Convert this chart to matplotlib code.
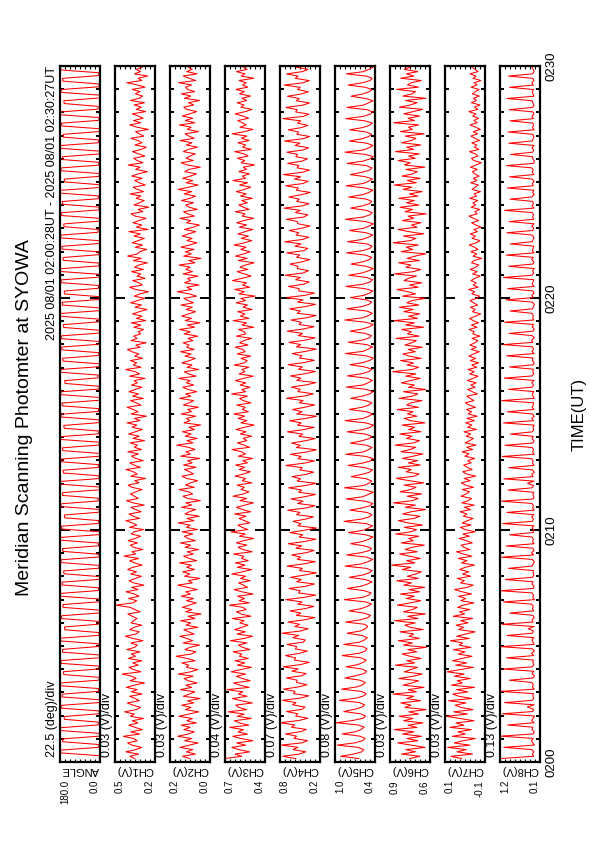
import matplotlib
matplotlib.use("Agg")
import matplotlib.pyplot as plt
import numpy as np
from matplotlib.ticker import FixedLocator, FuncFormatter, MultipleLocator, NullLocator

plt.rcParams["font.family"] = ["Liberation Sans", "DejaVu Sans"]

title = "Meridian Scanning Photomter at SYOWA"
period = "2025 08/01 02:00:28UT - 2025 08/01 02:30:27UT"

# traces span (minutes after 02:00), samples evenly spaced
t_first, t_last = 0.15, 29.95

# scan angle: the mirror sweeps across and rests briefly at each end
angle_deg = [
    3, 2, 176, 177, 6, 5, 168, 170, 2, 3, 179, 178, 8, 7, 160, 162, 4, 4, 174, 175, 1, 2, 171, 170,
    7, 6, 178, 177, 3, 4, 163, 165, 5, 4, 175, 176, 2, 3, 169, 168, 9, 8, 177, 178, 4, 5, 158, 160,
    6, 5, 173, 174, 1, 2, 166, 167, 3, 3, 179, 178, 8, 6, 170, 171, 2, 3, 162, 164, 5, 4, 176, 175,
    4, 5, 167, 169, 7, 6, 178, 177, 1, 2, 172, 173, 6, 5, 159, 161, 3, 4, 175, 176, 9, 7, 169, 168,
    2, 3, 177, 178, 5, 4, 164, 166, 8, 7, 173, 172, 1, 2, 168, 169, 4, 3, 179, 177, 6, 5, 161, 163,
    3, 4, 174, 175, 7, 6, 170, 171, 2, 3, 176, 177, 5, 4, 157, 159, 9, 8, 178, 176, 1, 2, 166, 168,
    6, 5, 172, 173, 4, 4, 175, 174, 3, 2, 163, 165, 8, 7, 177, 178, 2, 3, 169, 170, 5, 4, 160, 161,
    7, 6, 174, 175, 1, 2, 178, 177, 4, 5, 165, 166, 6, 5, 171, 172, 3, 2, 176, 177, 9, 8, 162, 163,
    2, 3, 173, 174, 5, 4, 168, 170, 8, 7, 179, 178, 1, 2, 159, 161, 4, 3, 175, 176, 6, 5, 170, 169,
    3, 2, 177, 178, 7, 6, 164, 165, 2, 3, 172, 173, 5, 4, 178, 177, 9, 8, 161, 163, 1, 2, 174, 175,
    4, 5, 167, 168, 6, 5, 176, 177,
]

# photometer channels, mV
ch1_mv = [
    342, 371, 318, 395, 336, 301, 358, 384, 327, 349, 410, 312,
    365, 296, 340, 377, 322, 356, 289, 368, 344, 403, 331, 307,
    352, 386, 314, 339, 372, 298, 361, 327, 392, 345, 283, 370,
    333, 359, 417, 305, 348, 376, 320, 354, 299, 381, 337, 362,
    310, 389, 343, 326, 366, 292, 351, 398, 334, 315, 372, 346,
    300, 363, 348, 328, 357, 383, 309, 341, 369, 455, 353, 330,
    378, 316, 345, 394, 321, 360, 287, 349, 375, 338, 302, 366,
    331, 384, 355, 297, 342, 372, 318, 406, 336, 358, 293, 347,
    368, 325, 381, 339, 306, 362, 344, 289, 373, 329, 356, 395,
    313, 350, 376, 303, 337, 364, 285, 352, 391, 320, 343, 367,
    334, 298, 359, 381, 316, 342, 277, 365, 327, 350, 394, 308,
    346, 372, 291, 336, 361, 319, 383, 301, 344, 326, 369, 283,
    352, 315, 378, 338, 296, 357, 329, 388, 310, 343, 271, 364,
    322, 349, 387, 305, 333, 367, 290, 355, 318, 376, 341, 299,
    361, 326, 345, 280, 373, 312, 339, 396, 304, 351, 330, 368,
    294, 342, 317, 359, 385, 309, 335, 273, 364, 328, 348, 306,
    321, 288, 347, 305, 362, 276, 331, 298, 355, 314, 268, 340,
    301, 367, 324, 282, 345, 310, 259, 336, 372, 296, 318, 353,
    279, 328, 306, 361, 290, 343, 317, 265, 350, 302, 384, 325,
    311, 270, 338, 295, 357, 320, 284, 346, 308, 377, 262, 331,
    299, 352, 316, 274, 339, 364, 293, 322, 257, 347, 313, 285,
    334, 305, 369, 289, 326, 351, 278, 315, 342, 297, 360, 320,
    266, 336, 309, 381, 292, 327, 348, 281, 318, 355, 303, 272,
    341, 298, 323, 363, 287, 314, 337, 260, 329, 371, 306, 349,
    291, 319, 356, 276, 333, 302, 345, 283, 368, 315, 294, 338,
    310, 357, 280, 326, 389, 299, 321, 264, 343, 307, 331, 296,
]
ch2_mv = [
    122, 165, 88, 141, 103, 180, 126, 71, 152, 110, 194, 133,
    94, 157, 119, 173, 82, 139, 106, 187, 127, 67, 148, 114,
    170, 98, 135, 59, 160, 123, 91, 177, 110, 145, 78, 131,
    156, 101, 190, 117, 73, 142, 128, 169, 89, 137, 203, 112,
    85, 150, 121, 63, 161, 104, 139, 181, 95, 129, 157, 72,
    144, 115, 176, 90, 132, 53, 147, 108, 166, 124, 83, 141,
    99, 172, 118, 146, 77, 136, 193, 106, 130, 61, 152, 121,
    164, 93, 140, 113, 183, 80, 125, 158, 100, 137, 69, 149,
    116, 178, 88, 133, 154, 103, 167, 75, 141, 119, 191, 96,
    138, 65, 151, 124, 86, 171, 110, 145, 58, 134, 162, 104,
    129, 186, 94, 147, 116, 74, 140, 168, 99, 122, 153, 84,
    159, 107, 135, 62, 176, 118, 144, 90, 130, 199, 102, 138,
    77, 149, 113, 165, 93, 127, 56, 156, 120, 141, 86, 173,
    111, 134, 70, 160, 125, 98, 182, 115, 146, 79, 131, 163,
    97, 142, 119, 188, 84, 129, 154, 68, 137, 108, 169, 123,
    89, 150, 114, 177, 95, 140, 126, 161, 103, 132, 74, 155,
    118, 183, 92, 136, 60, 149, 111, 170, 128, 87, 143, 106,
    175, 99, 131, 157, 81, 124, 196, 109, 139, 66, 152, 117,
    134, 72, 162, 105, 145, 120, 185, 90, 127, 54, 158, 112,
    148, 96, 174, 123, 79, 138, 107, 167, 130, 85, 153, 101,
    64, 141, 116, 180, 93, 133, 159, 76, 125, 146, 98, 171,
    121, 87, 155, 110, 192, 128, 71, 143, 104, 164, 117, 82,
    151, 126, 58, 137, 173, 100, 144, 119, 88, 160, 131, 75,
    142, 108, 179, 95, 127, 150, 69, 136, 113, 184, 91, 148,
    104, 166, 122, 80, 139, 157, 97, 129, 63, 153, 115, 172,
    92, 135, 147, 111, 188, 86, 124, 161, 78, 140, 106, 130,
]
ch3_mv = [
    700, 566, 618, 503, 590, 645, 535, 607, 476, 573, 638, 520,
    595, 553, 662, 510, 583, 625, 491, 601, 546, 673, 527, 588,
    615, 481, 571, 640, 524, 593, 557, 684, 507, 579, 631, 498,
    562, 609, 534, 650, 575, 489, 601, 542, 620, 513, 585, 566,
    635, 502, 558, 593, 525, 656, 549, 480, 604, 537, 623, 565,
    516, 582, 547, 641, 493, 571, 608, 531, 557, 665, 506, 587,
    544, 599, 475, 566, 627, 520, 553, 592, 498, 576, 535, 645,
    561, 487, 602, 540, 617, 514, 568, 549, 632, 483, 556, 595,
    525, 609, 551, 470, 584, 538, 653, 517, 563, 597, 502, 546,
    588, 532, 624, 494, 559, 608, 541, 473, 580, 527, 636, 555,
    508, 571, 546, 603, 485, 562, 534, 619, 552, 497, 587, 543,
    615, 520, 558, 479, 593, 536, 570, 644, 503, 549, 601, 525,
    554, 487, 578, 531, 612, 544, 467, 573, 526, 595, 542, 630,
    513, 561, 538, 605, 492, 556, 583, 521, 647, 535, 566, 500,
    579, 533, 617, 552, 474, 588, 541, 564, 510, 626, 545, 523,
    571, 495, 602, 539, 557, 618, 516, 583, 550, 488, 609, 534,
    547, 592, 470, 563, 528, 634, 509, 576, 541, 598, 483, 555,
    520, 611, 536, 572, 459, 587, 545, 622, 503, 560, 529, 640,
    566, 491, 548, 603, 517, 581, 537, 466, 594, 523, 616, 551,
    499, 574, 532, 628, 544, 486, 569, 513, 597, 540, 478, 585,
    527, 606, 549, 472, 563, 539, 618, 508, 552, 590, 521, 567,
    481, 575, 530, 609, 546, 494, 583, 519, 637, 536, 561, 504,
    589, 528, 554, 463, 571, 542, 600, 515, 548, 622, 490, 559,
    534, 597, 507, 568, 525, 643, 543, 477, 580, 531, 562, 598,
    511, 556, 619, 537, 484, 573, 548, 603, 526, 565, 496, 584,
    545, 612, 518, 559, 532, 587, 469, 570, 540, 608, 523, 553,
]
ch4_mv = [
    560, 742, 505, 420, 598, 530, 761, 472, 395, 585,
    548, 705, 490, 412, 620, 575, 774, 515, 388, 560,
    532, 688, 468, 430, 605, 556, 745, 498, 376, 590,
    570, 729, 520, 402, 548, 541, 690, 476, 415, 612,
    523, 735, 489, 370, 579, 562, 703, 507, 398, 566,
    545, 680, 455, 425, 601, 518, 752, 492, 384, 574,
    505, 668, 440, 292, 552, 487, 640, 428, 306, 531,
    470, 699, 451, 280, 520, 498, 652, 419, 298, 545,
    481, 630, 436, 270, 509, 466, 682, 445, 287, 538,
    493, 615, 412, 301, 556, 475, 664, 430, 278, 512,
    462, 641, 448, 266, 527, 489, 598, 422, 312, 548,
    501, 672, 409, 291, 533, 458, 627, 437, 283, 519,
    477, 659, 426, 275, 541, 492, 610, 414, 309, 503,
    469, 697, 440, 297, 528, 484, 635, 403, 271, 550,
    495, 618, 431, 286, 517, 461, 676, 447, 302, 536,
    483, 646, 418, 268, 544, 472, 603, 433, 294, 511,
    456, 689, 444, 313, 530, 498, 621, 411, 279, 546,
    487, 633, 425, 285, 522, 466, 667, 438, 300, 507,
    474, 608, 416, 272, 549, 490, 654, 429, 289, 525,
    463, 679, 450, 304, 514, 481, 626, 407, 277, 540,
    496, 645, 421, 282, 532, 459, 692, 435, 296, 518,
    512, 661, 446, 372, 560, 494, 708, 458, 381, 539,
    528, 640, 470, 365, 547, 503, 685, 441, 392, 571,
    485, 712, 462, 378, 555, 517, 650, 476, 360, 530,
    536, 690, 449, 389, 564, 497, 725, 468, 374, 546,
    509, 657, 481, 355, 552, 524, 698, 455, 386, 578,
    491, 731, 466, 369, 541, 515, 672, 473, 395, 558,
    532, 684, 452, 380, 569, 502, 716, 461, 363, 544,
    518, 664, 478, 391, 537, 489, 739, 450, 376, 562,
    540, 696, 463, 367, 551, 511, 675, 486, 383, 533,
    498, 721, 457, 371, 566, 526, 688, 469, 388, 549,
]
ch5_mv = [
    640, 930, 720, 590, 560, 655, 985, 700, 575, 540,
    620, 905, 690, 600, 552, 648, 1000, 735, 568, 530,
    612, 880, 705, 585, 545, 630, 948, 682, 560, 522,
    598, 915, 668, 574, 536, 617, 860, 690, 551, 515,
    585, 842, 655, 566, 521, 604, 905, 640, 540, 508,
    572, 880, 628, 548, 502, 590, 826, 615, 531, 496,
    545, 850, 610, 492, 450, 562, 795, 598, 505, 436,
    528, 872, 587, 480, 441, 551, 820, 605, 497, 428,
    537, 790, 576, 471, 425, 520, 858, 593, 488, 418,
    515, 834, 602, 463, 437, 543, 768, 580, 479, 412,
    531, 805, 571, 486, 420, 524, 876, 596, 470, 429,
    509, 781, 588, 458, 416, 538, 842, 574, 492, 408,
    526, 867, 565, 477, 432, 517, 760, 590, 466, 421,
    540, 812, 582, 455, 410, 522, 848, 569, 484, 426,
    511, 775, 593, 469, 434, 535, 826, 577, 461, 404,
    529, 858, 568, 481, 418, 514, 791, 586, 475, 431,
    537, 767, 575, 460, 413, 526, 839, 563, 487, 422,
    506, 823, 590, 472, 428, 541, 780, 572, 458, 407,
    523, 851, 566, 485, 419, 512, 808, 584, 470, 435,
    534, 776, 579, 463, 411, 530, 862, 570, 482, 424,
    510, 829, 587, 476, 430, 521, 771, 561, 467, 414,
    538, 845, 573, 457, 421, 516, 798, 589, 480, 409,
    527, 763, 568, 471, 433, 533, 836, 576, 462, 427,
    508, 818, 585, 483, 417, 525, 787, 564, 474, 405,
    536, 854, 571, 459, 426, 518, 769, 582, 469, 432,
    514, 800, 578, 478, 412, 539, 843, 567, 486, 420,
    528, 774, 591, 464, 429, 520, 825, 573, 460, 410,
    532, 859, 566, 475, 415, 511, 790, 588, 481, 434,
    519, 782, 580, 468, 423, 537, 848, 570, 457, 418,
    507, 831, 569, 487, 411, 529, 764, 579, 473, 428,
    535, 810, 586, 461, 425, 516, 839, 565, 478, 416,
]
ch6_mv = [
    752, 690, 801, 718, 775, 660, 740, 823, 703, 768, 681, 795,
    726, 845, 709, 761, 672, 788, 733, 815, 698, 757, 654, 780,
    744, 805, 687, 770, 726, 851, 712, 760, 666, 792, 738, 699,
    816, 731, 676, 784, 745, 706, 838, 722, 769, 683, 750, 797,
    710, 763, 652, 789, 735, 820, 694, 756, 728, 810, 671, 748,
    781, 719, 842, 702, 764, 658, 790, 737, 706, 826, 749, 685,
    773, 724, 808, 692, 755, 662, 787, 741, 829, 700, 766, 715,
    682, 797, 746, 860, 721, 770, 688, 752, 812, 707, 779, 739,
    664, 803, 730, 758, 697, 836, 745, 711, 784, 675, 762, 820,
    726, 690, 794, 743, 657, 778, 718, 849, 735, 701, 767, 680,
    809, 747, 714, 786, 668, 755, 832, 724, 696, 773, 742, 819,
    688, 760, 705, 795, 731, 672, 804, 749, 716, 840, 727, 693,
    771, 739, 811, 684, 757, 722, 798, 661, 748, 785, 709, 766,
    732, 826, 699, 770, 744, 678, 815, 737, 703, 790, 656, 759,
    724, 802, 747, 689, 776, 715, 853, 736, 698, 768, 729, 807,
    683, 754, 792, 718, 761, 676, 781, 740, 712, 834, 695, 765,
    742, 800, 668, 777, 723, 846, 705, 758, 691, 787, 730, 814,
    697, 769, 738, 659, 795, 717, 764, 828, 701, 753, 679, 786,
    760, 711, 843, 729, 686, 774, 745, 818, 693, 767, 720, 656,
    803, 734, 772, 700, 851, 746, 715, 789, 667, 757, 822, 708,
    741, 684, 796, 727, 762, 653, 780, 735, 810, 696, 771, 724,
    817, 703, 754, 677, 791, 739, 845, 712, 766, 689, 798, 733,
    706, 775, 661, 783, 748, 821, 719, 758, 694, 837, 728, 770,
    685, 801, 743, 714, 779, 665, 807, 736, 759, 698, 848, 723,
    762, 692, 788, 731, 674, 813, 747, 708, 776, 655, 793, 738,
    717, 830, 699, 765, 741, 682, 806, 727, 772, 704, 785, 750,
]
ch7_mv = [
    40, 105, -25, 68, 12, 124, -10, 85, 30, -42, 96, 18,
    62, -18, 110, 27, 74, -35, 51, 132, 5, 88, -28, 45,
    79, 14, 118, -20, 57, 93, 3, 71, -38, 102, 36, 66,
    -12, 84, 25, 128, 48, -30, 76, 10, 95, 39, -22, 61,
    20, 89, -15, 55, 34, 107, -5, 70, 16, -40, 58, 28,
    73, 2, 46, -26, 91, 22, 53, -8, 64, 31, -33, 44,
    15, 59, -19, 38, 82, 6, -29, 47, 24, 66, -14, 35,
    -3, 52, 19, -37, 41, 8, 60, -21, 29, 71, -9, 26,
    43, -24, 12, 55, -6, 33, -41, 20, 48, -16, 37, 4,
    -28, 30, 9, 50, -13, 23, -35, 39, 1, -20, 44, 14,
    -7, 36, -31, 17, 42, -11, 25, -44, 11, 34, -23, 7,
    28, -17, 3, -38, 21, -4, 37, -26, 10, -46, 19, -9,
    -30, 13, -14, 26, -49, 5, -21, 16, -36, 8, -52, 1,
    -19, 12, -43, -6, 18, -33, -11, 9, -55, -24, 4, -40,
    -15, -47, 6, -28, -58, -8, -36, 2, -50, -20, -62, -12,
    -44, -3, -31, -66, -17, -48, -9, -39, -57, -22, -70, -27,
    -35, -5, -52, -18, -61, -29, -8, -45, -74, -24, -41, -13,
    -56, -32, -10, -49, -67, -21, -38, -2, -59, -30, -47, -16,
    -40, -71, -26, -53, -11, -44, -63, -19, -35, -80, -28, -50,
    -15, -58, -37, -6, -48, -69, -23, -42, -12, -55, -33, -76,
    -46, -20, -62, -31, -4, -52, -39, -68, -17, -44, -27, -57,
    -9, -49, -35, -73, -22, -41, -60, -14, -51, -30, -65, -38,
    -25, -54, -12, -47, -78, -33, -19, -58, -42, -7, -63, -36,
    -50, -21, -68, -39, -15, -56, -29, -72, -44, -11, -53, -34,
    -61, -26, -45, -3, -57, -37, -70, -18, -48, -31, -66, -24,
    -43, -64, -16, -52, -35, -75, -28, -46, -10, -59, -40, -21,
]
ch8_mv = [
    1150, 305, 340, 298, 352, 1080, 287, 331, 360, 315,
    1170, 312, 290, 348, 325, 985, 296, 356, 318, 281,
    1120, 330, 304, 470, 292, 1060, 345, 300, 327, 310,
    1175, 289, 338, 316, 355, 940, 321, 286, 349, 302,
    1100, 341, 297, 328, 312, 1010, 308, 359, 284, 336,
    1160, 294, 323, 351, 300, 995, 337, 311, 445, 291,
    1130, 318, 346, 289, 329, 925, 302, 339, 315, 357,
    1090, 285, 327, 306, 343, 1170, 314, 293, 352, 320,
    1040, 333, 299, 322, 310, 960, 347, 317, 288, 341,
    1140, 306, 358, 295, 326, 1020, 292, 334, 313, 349,
    930, 323, 287, 343, 301, 1110, 338, 309, 357, 296,
    1000, 291, 330, 312, 348, 1150, 316, 298, 327, 304,
    970, 344, 306, 466, 294, 1080, 321, 352, 289, 335,
    950, 299, 337, 318, 355, 1125, 287, 330, 308, 342,
    1050, 327, 296, 349, 313, 910, 340, 303, 326, 290,
    1090, 310, 353, 292, 332, 990, 298, 345, 319, 307,
    1135, 288, 323, 341, 300, 960, 335, 311, 356, 294,
    1070, 347, 301, 328, 315, 930, 309, 292, 339, 322,
    1010, 296, 350, 307, 333, 1100, 324, 358, 286, 344,
    940, 319, 290, 346, 305, 1060, 302, 329, 314, 351,
    920, 335, 309, 286, 342, 1030, 317, 355, 297, 325,
    980, 293, 344, 320, 302, 1090, 348, 306, 333, 289,
    950, 326, 299, 357, 314, 1020, 291, 340, 318, 305,
    910, 340, 316, 295, 349, 1000, 328, 303, 354, 296,
    940, 305, 332, 309, 338, 1060, 295, 347, 312, 329,
    920, 352, 290, 330, 301, 990, 318, 336, 292, 345,
    930, 298, 341, 314, 356, 1010, 307, 288, 325, 339,
    900, 327, 303, 350, 293, 950, 343, 315, 300, 331,
    970, 290, 338, 306, 322, 920, 311, 349, 297, 318,
    940, 336, 295, 327, 345, 1000, 299, 320, 342, 308,
    930, 313, 351, 300, 326, 960, 334, 294, 317, 347,
]

panel_names = ["ANGLE", "CH1(V)", "CH2(V)", "CH3(V)", "CH4(V)",
               "CH5(V)", "CH6(V)", "CH7(V)", "CH8(V)"]
panel_lo = [0.0, 0.22, 0.0, 0.38, 0.22, 0.38, 0.63, -0.10, 0.14]
panel_div = [22.5, 0.03, 0.03, 0.04, 0.07, 0.08, 0.03, 0.03, 0.13]

series = [np.array(angle_deg, float)] + [
    np.array(c, float) / 1000.0
    for c in (ch1_mv, ch2_mv, ch3_mv, ch4_mv, ch5_mv, ch6_mv, ch7_mv, ch8_mv)
]

W, H = 595, 842
fig = plt.figure(figsize=(W / 100, H / 100), dpi=100)

for i, vals in enumerate(series):
    ax = fig.add_axes([(60 + 55 * i) / W, 80 / H, 40 / W, 696 / H])
    lo, div = panel_lo[i], panel_div[i]
    hi = lo + 8 * div
    t = np.linspace(t_first, t_last, len(vals))
    ax.plot(vals, t, color="#ff0000", lw=0.75)
    ax.set_xlim(hi, lo)
    ax.set_ylim(0, 30)

    ax.xaxis.set_major_locator(NullLocator())
    ax.xaxis.set_minor_locator(FixedLocator(lo + div * np.arange(1, 8)))
    ax.yaxis.set_major_locator(MultipleLocator(10))
    ax.yaxis.set_minor_locator(MultipleLocator(1))
    ax.tick_params(which="both", direction="in", top=True, bottom=True,
                   left=True, right=True, labelbottom=False, labelleft=False)
    ax.tick_params(axis="y", which="major", length=7, width=1.4)
    ax.tick_params(axis="y", which="minor", length=3, width=1.4)
    ax.tick_params(axis="x", which="minor", length=2.5, width=0.8)
    for s in ax.spines.values():
        s.set_linewidth(1.6)

    if i == 0:
        div_txt = f"{div:g} (deg)/div"
    else:
        div_txt = f"{div:.2f} (V)/div"
    ax.text(-0.05, 0.007, div_txt, transform=ax.transAxes, rotation=90,
            ha="right", va="bottom", fontsize=9)
    ax.text(0.5, -0.0115, panel_names[i], transform=ax.transAxes,
            rotation=180, ha="center", va="center", fontsize=8)
    ax.text(0, -0.026, f"{hi:.1f}", transform=ax.transAxes, rotation=90,
            ha="left", va="top", fontsize=7)
    ax.text(1, -0.026, f"{lo:.1f}", transform=ax.transAxes, rotation=90,
            ha="right", va="top", fontsize=7)

    if i == len(series) - 1:
        ax.yaxis.set_major_formatter(FuncFormatter(lambda m, _: f"02{int(round(m)):02d}"))
        ax.tick_params(axis="y", which="major", labelright=True,
                       labelrotation=90, labelsize=9.5, pad=4)
        for lab in ax.get_yticklabels():
            lab.set_va("center")
        ax.yaxis.set_label_position("right")
        ax.set_ylabel("TIME(UT)", fontsize=12, rotation=90, labelpad=10)

fig.text(25 / W, 1 - 418 / H, title, rotation=90, ha="center", va="center",
         fontsize=14)
fig.text(52 / W, 1 - 66 / H, period, rotation=90, ha="center", va="top",
         fontsize=9)

fig.savefig("out.png", dpi=100)
